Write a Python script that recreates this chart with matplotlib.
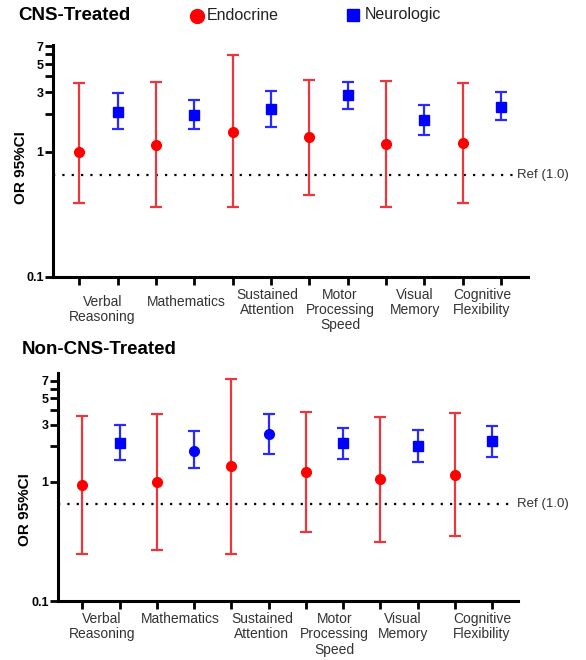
import matplotlib

matplotlib.use("Agg")
import matplotlib.pyplot as plt  # noqa: E402
from matplotlib.lines import Line2D  # noqa: E402
from matplotlib.ticker import FixedLocator, NullFormatter  # noqa: E402
from matplotlib.transforms import blended_transform_factory  # noqa: E402

plt.rcParams["font.family"] = ["Liberation Sans", "DejaVu Sans"]

# ---- data (odds ratios with 95% CI) ----
domains = ["Verbal\nReasoning", "Mathematics", "Sustained\nAttention",
           "Motor\nProcessing\nSpeed", "Visual\nMemory", "Cognitive\nFlexibility"]

cns_endo_or = [1.00, 1.13, 1.45, 1.30, 1.15, 1.17]
cns_endo_lo = [0.39, 0.36, 0.36, 0.45, 0.36, 0.39]
cns_endo_hi = [3.52, 3.63, 5.94, 3.75, 3.70, 3.52]
cns_neuro_or = [2.09, 1.95, 2.20, 2.84, 1.79, 2.29]
cns_neuro_lo = [1.51, 1.51, 1.59, 2.20, 1.37, 1.78]
cns_neuro_hi = [2.93, 2.58, 3.04, 3.63, 2.36, 2.99]

non_endo_or = [0.94, 0.99, 1.36, 1.21, 1.05, 1.14]
non_endo_lo = [0.25, 0.27, 0.25, 0.38, 0.31, 0.35]
non_endo_hi = [3.55, 3.67, 7.26, 3.84, 3.51, 3.74]
non_neuro_or = [2.10, 1.81, 2.50, 2.10, 1.99, 2.19]
non_neuro_lo = [1.51, 1.31, 1.71, 1.56, 1.47, 1.62]
non_neuro_hi = [2.97, 2.64, 3.72, 2.80, 2.71, 2.95]

cns_neuro_markers = ["s", "s", "s", "s", "s", "s"]
non_neuro_markers = ["s", "o", "o", "s", "s", "s"]

ref_value = 0.65
ref_label = "Ref (1.0)"
y_ticks = [0.1, 1, 3, 5, 7]
y_minor = [2, 4, 6]

RED = "#ff0000"
BLUE = "#0000ff"
W, H = 586, 660


def fx(px):
    return px / W


def fy(py):
    return 1 - py / H


def panel(fig, rect_px, xlim, ytop, endo, neuro, markers, title, title_xy,
          label_nudge, label_dy, ylabel_xy):
    left, top, right, bottom = rect_px
    ax = fig.add_axes([fx(left), fy(bottom), fx(right - left), (bottom - top) / H])
    ax.set_yscale("log")
    ax.set_xlim(*xlim)
    ax.set_ylim(0.1, ytop)

    e_or, e_lo, e_hi = endo
    n_or, n_lo, n_hi = neuro
    for i in range(len(domains)):
        xe, xn = 2 * i + 1, 2 * i + 2
        ax.errorbar([xe], [e_or[i]],
                    yerr=[[e_or[i] - e_lo[i]], [e_hi[i] - e_or[i]]],
                    fmt="o", color=RED, ecolor="#e8383d", ms=7, elinewidth=1.6,
                    capsize=4, capthick=1.6, zorder=3)
        ax.errorbar([xn], [n_or[i]],
                    yerr=[[n_or[i] - n_lo[i]], [n_hi[i] - n_or[i]]],
                    fmt=markers[i], color=BLUE, ecolor="#2a2aff",
                    ms=7 if markers[i] == "o" else 6.5, elinewidth=1.6,
                    capsize=4, capthick=1.6, zorder=3)

    # reference line
    tr = blended_transform_factory(fig.transFigure, ax.transData)
    ax.plot([fx(left), fx(513)], [ref_value, ref_value], transform=tr,
            color="black", lw=1.6, linestyle=(0, (1, 3.2)), clip_on=False)
    ax.text(fx(517), ref_value, ref_label, transform=tr, fontsize=9.5,
            color="#333333", va="center", ha="left")

    for s in ["top", "right"]:
        ax.spines[s].set_visible(False)
    for s in ["left", "bottom"]:
        ax.spines[s].set_linewidth(2.2)

    ax.set_xticks(range(1, 2 * len(domains) + 1))
    ax.set_xticklabels([])
    ax.tick_params(axis="x", direction="out", length=6, width=2)
    ax.yaxis.set_major_locator(FixedLocator(y_ticks))
    ax.set_yticklabels([f"{v:g}" for v in y_ticks], fontweight="bold", fontsize=9)
    ax.yaxis.set_minor_locator(FixedLocator(y_minor))
    ax.yaxis.set_minor_formatter(NullFormatter())
    ax.tick_params(axis="y", which="both", direction="out", length=6, width=2, pad=1)
    ax.set_ylabel("OR 95%CI", fontweight="bold", fontsize=11)
    ax.yaxis.set_label_coords(*ylabel_xy)

    for i, name in enumerate(domains):
        ax.annotate(name, xy=(2 * i + 1.5 + label_nudge[i], 0.1),
                    xytext=(0, -label_dy[i]), textcoords="offset points",
                    ha="center", va="top", fontsize=10, color="#333333",
                    linespacing=1.12, annotation_clip=False)

    fig.text(fx(title_xy[0]), fy(title_xy[1]), title, fontsize=13.5,
             fontweight="bold", va="center", ha="left")
    return ax


fig = plt.figure(figsize=(W / 100, H / 100), dpi=100)

panel(fig, (53.3, 45, 528, 276.7), (0.323, 12.70), 7.14,
      (cns_endo_or, cns_endo_lo, cns_endo_hi),
      (cns_neuro_or, cns_neuro_lo, cns_neuro_hi), cns_neuro_markers,
      "CNS-Treated", (18, 15),
      [0.1, 0.3, 0.4, 0.3, 0.25, 0.0], [13, 13, 8, 8, 8, 8], (-0.053, 0.469))

panel(fig, (58.3, 373.3, 518.3, 601), (0.356, 12.706), 8.1,
      (non_endo_or, non_endo_lo, non_endo_hi),
      (non_neuro_or, non_neuro_lo, non_neuro_hi), non_neuro_markers,
      "Non-CNS-Treated", (21.7, 349),
      [0.03, 0.12, 0.32, 0.27, 0.1, 0.23], [8, 8, 8, 8, 8, 8], (-0.058, 0.40))

# legend
fig.add_artist(Line2D([fx(197)], [fy(15.7)], marker="o", ms=10, color=RED,
                      transform=fig.transFigure))
fig.text(fx(207), fy(16), "Endocrine", fontsize=11.5, color="#222222", va="center")
fig.add_artist(Line2D([fx(352.7)], [fy(14.7)], marker="s", ms=9, color=BLUE,
                      transform=fig.transFigure))
fig.text(fx(365), fy(15), "Neurologic", fontsize=11.5, color="#222222", va="center")

fig.savefig("out.png", dpi=100)
